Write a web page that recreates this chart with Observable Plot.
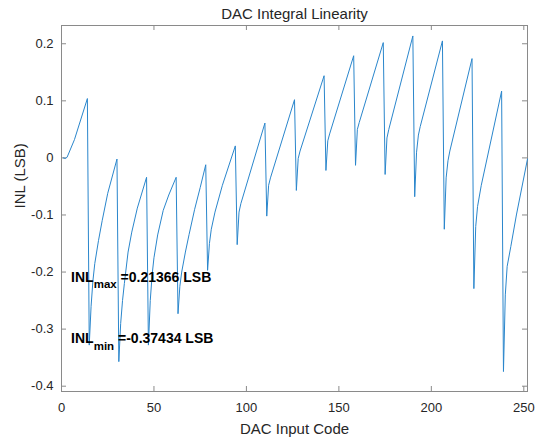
<!DOCTYPE html>
<html><head><meta charset="utf-8">
<script src="https://cdn.jsdelivr.net/npm/d3@7"></script>
<script src="https://cdn.jsdelivr.net/npm/@observablehq/plot@0.6"></script>
<style>body{margin:0;background:#fff;} svg{display:block}</style>
</head><body><div id="chart"></div>
<script>
// Polyline vertices (DAC code, INL in LSB)
const codes = [
  1, 2, 3, 7, 14,
  15, 16, 17, 18, 20, 22, 25, 30,
  31, 32, 33, 34, 36, 38, 41, 46,
  47, 48, 49, 50, 52, 55, 58, 62,
  63, 64, 65, 67, 69, 72, 75, 78,
  79, 80, 81, 83, 87, 94,
  95, 96, 97, 110,
  111, 112, 113, 126,
  127, 128, 129, 142,
  143, 144, 145, 158,
  159, 160, 161, 174,
  175, 176, 177, 190,
  191, 192, 193, 194, 206,
  207, 208, 209, 210, 222,
  223, 224, 225, 227, 238,
  239, 240, 241, 243, 246, 252
];
const inl = [
  0, -0.001, 0.001, 0.032, 0.104,
  -0.328, -0.26, -0.215, -0.185, -0.145, -0.11, -0.062, -0.002,
  -0.357, -0.29, -0.25, -0.22, -0.165, -0.13, -0.088, -0.034,
  -0.328, -0.25, -0.205, -0.175, -0.135, -0.092, -0.065, -0.034,
  -0.273, -0.225, -0.2, -0.165, -0.134, -0.09, -0.052, -0.012,
  -0.197, -0.15, -0.125, -0.095, -0.048, 0.021,
  -0.152, -0.095, -0.08, 0.061,
  -0.102, -0.048, -0.035, 0.102,
  -0.057, -0.001, 0.012, 0.144,
  -0.022, 0.03, 0.042, 0.179,
  -0.013, 0.05, 0.062, 0.202,
  -0.029, 0.035, 0.05, 0.21366,
  -0.068, 0.01, 0.04, 0.055, 0.205,
  -0.125, -0.035, -0.005, 0.012, 0.174,
  -0.229, -0.12, -0.085, -0.048, 0.117,
  -0.37434, -0.24, -0.19, -0.155, -0.1, -0.002
];
const xTicks = [0, 50, 100, 150, 200, 250];
const yTicks = [-0.4, -0.3, -0.2, -0.1, 0, 0.1, 0.2];
const yTickLabels = ["-0.4", "-0.3", "-0.2", "-0.1", "0", "0.1", "0.2"];
const titleText = "DAC Integral Linearity";
const xLabelText = "DAC Input Code";
const yLabelText = "INL (LSB)";
const annotTexts = ["INL_{max} =0.21366 LSB", "INL_{min} =-0.37434 LSB"];

const W = 536, H = 442, mL = 61, mR = 9, mT = 25, mB = 51;
const fw = W - mL - mR, fh = H - mT - mB;
const axisGray = "#8a8a8a", textGray = "#262626";
const data = codes.map((c, i) => ({c, v: inl[i]}));
const annots = [
  {x: 5.2, y: -0.217, t: annotTexts[0]},
  {x: 5.2, y: -0.325, t: annotTexts[1]}
];

const chart = Plot.plot({
  width: W, height: H,
  marginLeft: mL, marginRight: mR, marginTop: mT, marginBottom: mB,
  style: {fontFamily: "'Liberation Sans', Arial, sans-serif", background: "white", color: textGray},
  x: {domain: [0, 252]},
  y: {domain: [-0.4093, 0.232]},
  marks: [
    Plot.frame({stroke: axisGray}),
    Plot.ruleX(xTicks, {x: d => d, insetTop: fh - 5, stroke: axisGray}),
    Plot.ruleX(xTicks, {x: d => d, insetBottom: fh - 5, stroke: axisGray}),
    Plot.ruleY(yTicks, {y: d => d, insetRight: fw - 5, stroke: axisGray}),
    Plot.ruleY(yTicks, {y: d => d, insetLeft: fw - 5, stroke: axisGray}),
    Plot.axisX({ticks: xTicks, tickSize: 0, tickPadding: 11, fontSize: 13, fill: textGray, label: null}),
    Plot.axisY({ticks: yTicks, tickSize: 0, tickPadding: 8, fontSize: 13, fill: textGray, label: null,
      tickFormat: d => yTickLabels[yTicks.indexOf(d)]}),
    Plot.line(data, {x: "c", y: "v", stroke: "#2a86cc", strokeWidth: 1}),
    Plot.text([titleText], {text: d => d, frameAnchor: "top", dy: -7, lineAnchor: "bottom", fontSize: 15, fill: textGray}),
    Plot.text([xLabelText], {text: d => d, frameAnchor: "bottom", dy: 42, lineAnchor: "bottom", fontSize: 15, fill: textGray}),
    Plot.text([yLabelText], {text: d => d, frameAnchor: "left", dx: -37, rotate: -90, lineAnchor: "bottom", fontSize: 15, fill: textGray}),
    Plot.text(annots, {x: "x", y: "y", text: "t", textAnchor: "start", lineAnchor: "bottom", fontSize: 14, fontWeight: "bold", fill: "black"})
  ]
});

// Render TeX-style subscripts as tspans
chart.querySelectorAll("text").forEach(el => {
  const m = /^(.*)_\{(.*)\}(.*)$/.exec(el.textContent);
  if (!m) return;
  el.textContent = "";
  const ns = "http://www.w3.org/2000/svg";
  const a = document.createElementNS(ns, "tspan"); a.textContent = m[1];
  const b = document.createElementNS(ns, "tspan"); b.textContent = m[2];
  b.setAttribute("font-size", "11.5"); b.setAttribute("dy", "6.5");
  const c = document.createElementNS(ns, "tspan"); c.textContent = "\u00a0" + m[3].trimStart();
  c.setAttribute("dy", "-6.5");
  el.append(a, b, c);
});

document.getElementById("chart").append(chart);
</script>
</body></html>
